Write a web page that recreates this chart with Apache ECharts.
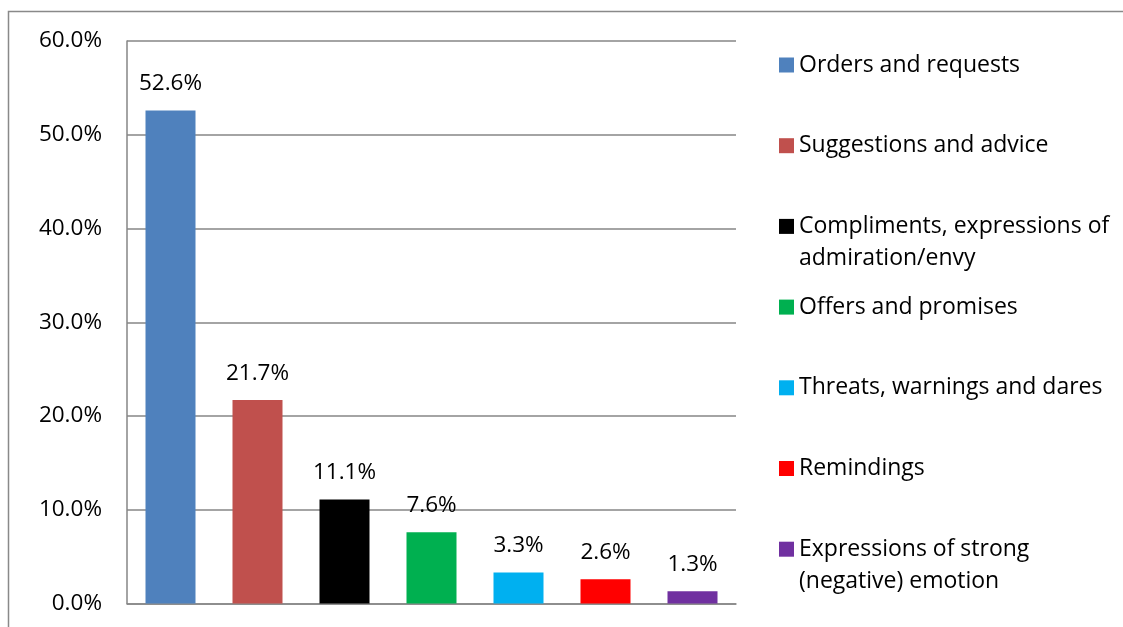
<!DOCTYPE html>
<html>
<head>
    <meta charset="UTF-8">
    <script src="https://cdn.jsdelivr.net/npm/echarts@6/dist/echarts.min.js"></script>
    <style>
      html, body { margin: 0; padding: 0; background: #fff; }
      #main { width: 1123px; height: 627px; }
    </style>
</head>
<body>
<div id="main"></div>
<script>
    // chart data
    var categories = [
        'Orders and requests',
        'Suggestions and advice',
        'Compliments, expressions of\nadmiration/envy',
        'Offers and promises',
        'Threats, warnings and dares',
        'Remindings',
        'Expressions of strong\n(negative) emotion'
    ];
    var values = [52.6, 21.7, 11.1, 7.6, 3.3, 2.6, 1.3];
    var colors = ['#4F81BD', '#C0504D', '#000000', '#00B050', '#00B0F0', '#FF0000', '#7030A0'];
    var yTicks = [0, 10, 20, 30, 40, 50, 60];

    var font = 'Open Sans';
    var fontSize = 22.5;
    var legendFontSize = 23;
    var lineH = 32;

    // one series per category so that each one gets its own legend entry
    var series = categories.map(function (name, i) {
        var d = values.map(function (v, j) { return j === i ? v : null; });
        return {
            name: name,
            type: 'bar',
            stack: 'all',
            barWidth: 50,
            itemStyle: { color: colors[i] },
            label: {
                show: true,
                position: 'top',
                distance: 15,
                color: '#000',
                fontFamily: font,
                fontSize: fontSize,
                formatter: function (p) { return p.value.toFixed(1) + '%'; }
            },
            data: d
        };
    });

    // legend entries evenly spaced like the original, marker on the first line
    var legends = categories.map(function (name, i) {
        var nLines = name.split('\n').length;
        var blank = '';
        for (var k = 1; k < nLines; k++) blank += ' \n';
        var totalLines = 2 * nLines - 1;
        var center = 65 + i * 80.7;
        return {
            orient: 'vertical',
            left: 779,
            top: center - totalLines * lineH / 2,
            padding: 0,
            itemWidth: 15,
            itemHeight: 15,
            itemGap: 0,
            icon: 'rect',
            selectedMode: false,
            data: [name],
            formatter: function (n) { return blank + n; },
            textStyle: {
                color: '#000',
                fontFamily: font,
                fontSize: legendFontSize,
                lineHeight: lineH
            }
        };
    });

    var myChart = echarts.init(document.getElementById('main'));
    var option = {
        backgroundColor: '#fff',
        animation: false,
        graphic: [{
            type: 'rect',
            shape: { x: 8.5, y: 11.5, width: 1300, height: 800 },
            style: { fill: 'none', stroke: '#898989', lineWidth: 1.5 },
            silent: true
        }],
        legend: legends,
        grid: { left: 127, right: 387, top: 41, bottom: 23.5 },
        xAxis: {
            type: 'category',
            data: categories,
            axisLine: { show: true, lineStyle: { color: '#868686', width: 1.5 } },
            axisTick: { show: false },
            axisLabel: { show: false }
        },
        yAxis: {
            type: 'value',
            min: yTicks[0],
            max: yTicks[yTicks.length - 1],
            interval: 10,
            axisLine: { show: true, lineStyle: { color: '#868686', width: 1.5 } },
            axisTick: { show: false },
            splitLine: { show: true, lineStyle: { color: '#868686', width: 1.5 } },
            axisLabel: {
                margin: 25,
                color: '#000',
                fontFamily: font,
                fontSize: fontSize,
                formatter: function (v) { return v.toFixed(1) + '%'; }
            }
        },
        series: series
    };

    myChart.setOption(option);
</script>
</body>
</html>
